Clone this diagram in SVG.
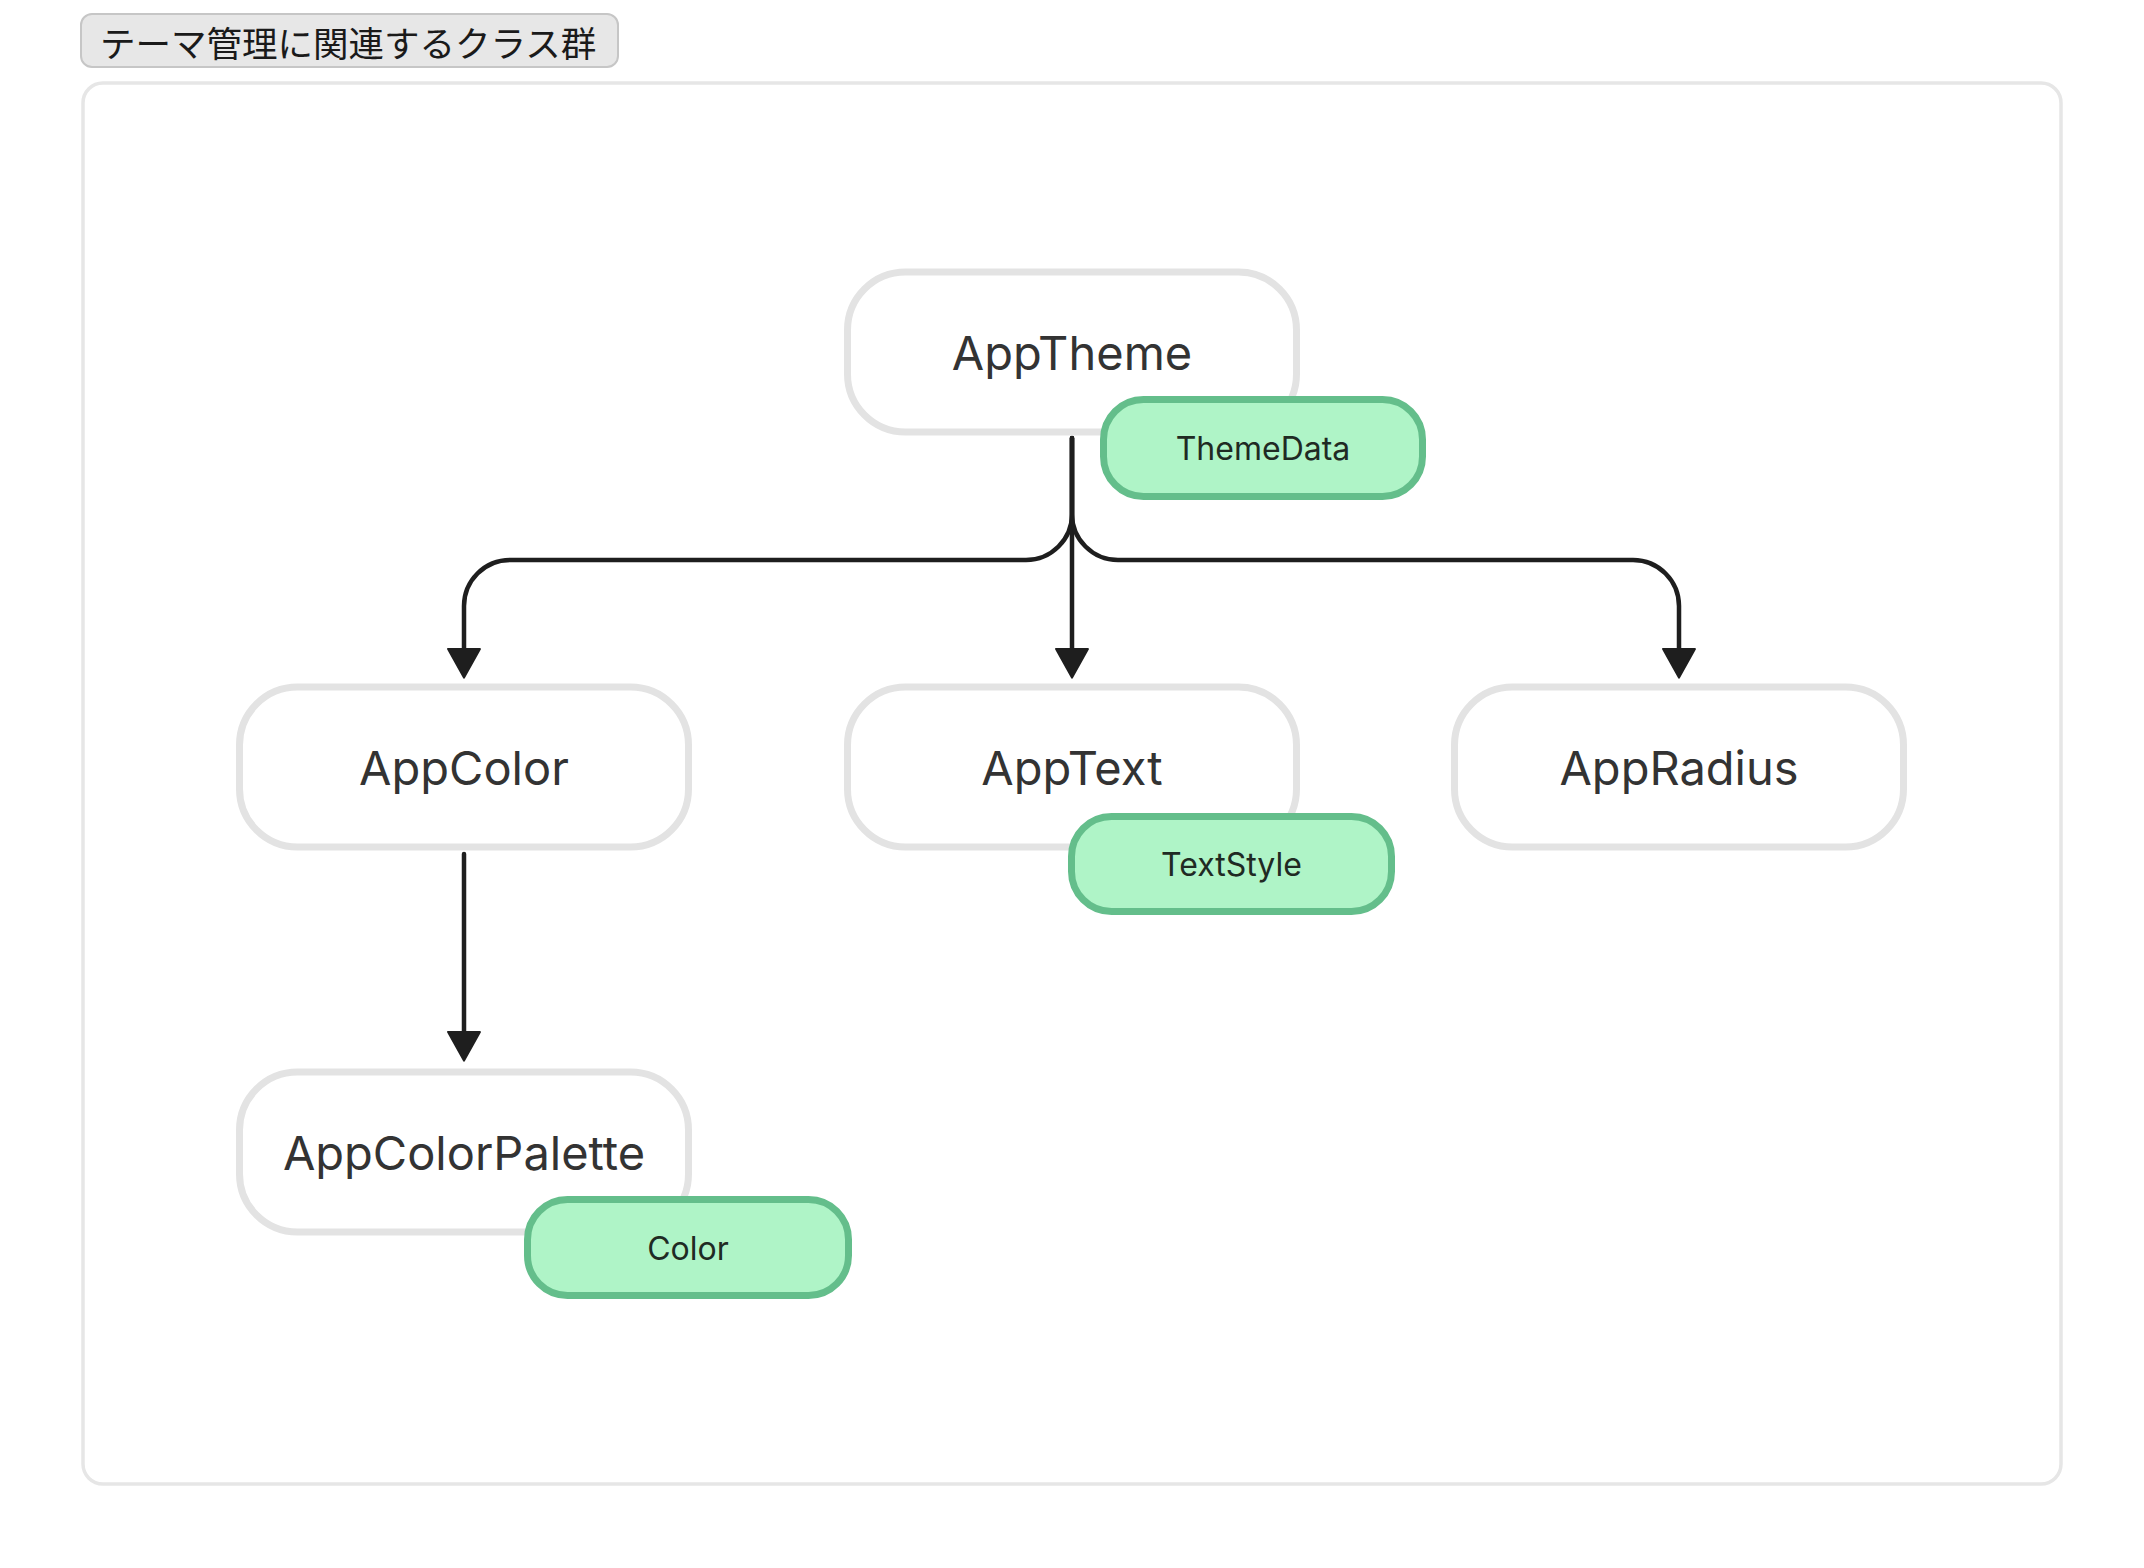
<svg xmlns="http://www.w3.org/2000/svg" width="2144" height="1568" viewBox="0 0 2144 1568">
  <style>
    .node rect { fill: #ffffff; stroke: #e3e3e3; stroke-width: 7; }
    .node text { font-family: Inter, "Liberation Sans", sans-serif; font-size: 47px; fill: #333333; text-anchor: middle; }
    .badge rect { fill: #aff4c7; stroke: #64be8b; stroke-width: 7; }
    .badge text { font-family: Inter, "Liberation Sans", sans-serif; font-size: 32px; fill: #1f2a23; text-anchor: middle; }
    .edge { fill: none; stroke: #1e1e1e; stroke-width: 4.5; stroke-linecap: round; marker-end: url(#arrow); }
  </style>
  <defs>
    <marker id="arrow" markerUnits="userSpaceOnUse" markerWidth="34" markerHeight="36" viewBox="-2 -2 32 34" refX="1" refY="15" orient="auto">
      <path d="M0 0 L27 15 L0 30 Z" fill="#1e1e1e" stroke="#1e1e1e" stroke-width="2" stroke-linejoin="round"/>
    </marker>
  </defs>

  <rect width="2144" height="1568" fill="#ffffff"/>

  <g id="group-label">
    <rect x="81" y="14" width="537" height="53" rx="11" fill="#e7e7e7" stroke="#c6c6c6" stroke-width="2"/>
    <text x="100" y="41" dominant-baseline="central" font-family="'Noto Sans CJK JP', sans-serif" font-size="35.5" fill="#1a1a1a">テーマ管理に関連するクラス群</text>
  </g>

  <g id="container">
    <rect x="83" y="83" width="1978" height="1401" rx="20" fill="none" stroke="#e6e6e6" stroke-width="3.5"/>
  </g>

  <g id="connectors">
    <path class="edge" d="M1072 438 V514 A46 46 0 0 1 1026 560 H510 A46 46 0 0 0 464 606 V650"/>
    <path class="edge" d="M1072 438 V650"/>
    <path class="edge" d="M1072 438 V514 A46 46 0 0 0 1118 560 H1633 A46 46 0 0 1 1679 606 V650"/>
    <path class="edge" d="M464 854 V1033"/>
  </g>

  <g id="AppTheme" class="node">
    <rect x="847.5" y="272" width="449" height="160" rx="58"/>
    <text x="1072" y="370">AppTheme</text>
  </g>
  <g id="ThemeData" class="badge">
    <rect x="1103.5" y="399.5" width="319" height="97" rx="40"/>
    <text x="1263" y="460">ThemeData</text>
  </g>

  <g id="AppColor" class="node">
    <rect x="239.5" y="687" width="449" height="160" rx="58"/>
    <text x="464" y="785">AppColor</text>
  </g>

  <g id="AppText" class="node">
    <rect x="847.5" y="687" width="449" height="160" rx="58"/>
    <text x="1072" y="785">AppText</text>
  </g>
  <g id="TextStyle" class="badge">
    <rect x="1071.5" y="816.5" width="320" height="95" rx="40"/>
    <text x="1231.5" y="876">TextStyle</text>
  </g>

  <g id="AppRadius" class="node">
    <rect x="1454.5" y="687" width="449" height="160" rx="58"/>
    <text x="1679" y="785">AppRadius</text>
  </g>

  <g id="AppColorPalette" class="node">
    <rect x="239.5" y="1072" width="449" height="160" rx="58"/>
    <text x="464" y="1170">AppColorPalette</text>
  </g>
  <g id="Color" class="badge">
    <rect x="527.5" y="1199.5" width="321" height="96" rx="40"/>
    <text x="688" y="1260">Color</text>
  </g>
</svg>
